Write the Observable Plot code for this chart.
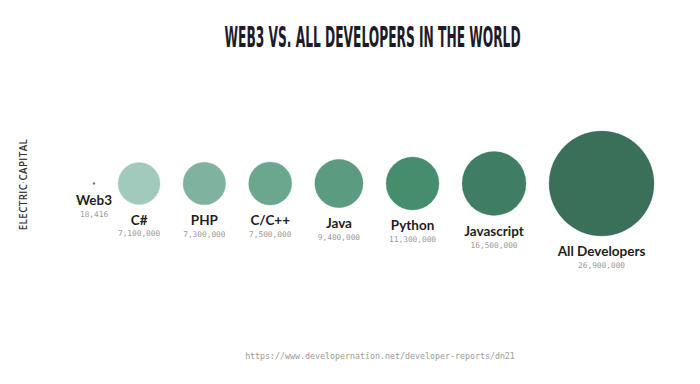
<!DOCTYPE html>
<html><head><meta charset="utf-8">
<script src="https://cdn.jsdelivr.net/npm/d3@7"></script>
<script src="https://cdn.jsdelivr.net/npm/@observablehq/plot@0.6"></script>
<style>
html,body{margin:0;padding:0;background:#fff;}
#wrap{position:relative;width:700px;height:384px;overflow:hidden;background:#fff;}
#title{position:absolute;left:0;top:0;width:746px;height:64px;text-align:center;}
#title span{display:inline-block;margin-top:24px;font-family:"Liberation Sans Narrow","DejaVu Sans Condensed","Liberation Sans",sans-serif;font-weight:bold;font-size:28px;line-height:28px;color:#1c1c28;white-space:nowrap;transform-origin:50% 50%;}
#chart{position:absolute;left:0;top:64px;z-index:1;}
#brand{position:absolute;left:-37px;top:178px;width:120px;height:13px;line-height:13px;text-align:center;transform:rotate(-90deg);font-family:"Open Sans",Lato,sans-serif;font-weight:600;font-size:9.8px;letter-spacing:0.4px;color:#333;white-space:nowrap;z-index:2;}
#brand .sep{color:#7fb0a0;}
#caption{position:absolute;left:0;top:351px;width:760px;text-align:center;font-family:"DejaVu Sans Mono",monospace;font-size:8.3px;color:#9a9a9a;white-space:nowrap;z-index:2;}
</style>
</head><body>
<div id="wrap">
  <div id="title"><span id="tt">WEB3 VS. ALL DEVELOPERS IN THE WORLD</span></div>
  <div id="chart"></div>
  <div id="brand">ELECTRIC<span class="sep">·</span>CAPITAL</div>
  <div id="caption">https://www.developernation.net/developer-reports/dn21</div>
</div>
<script>
// ---- data ----
const names = ["Web3", "C#", "PHP", "C/C++", "Java", "Python", "Javascript", "All Developers"];
const developers = [18416, 7100000, 7300000, 7500000, 9400000, 11300000, 16500000, 26900000];

// ---- styles ----
const colors = ["#5d6b7d", "#a2cabc", "#80b39f", "#6ba78f", "#5b9b80", "#468d6e", "#3f7e64", "#3a7059"];
const rOptions = {type: "sqrt", domain: [0, 16500000, 26900000], range: [0, 32, 52.5]};
const gap = 23, centerX = 373, rowY = 119, labelGap = 16, valueGap = 13.5;

// title width fit
const tt = document.getElementById("tt");
const sx = 296 / tt.getBoundingClientRect().width;
tt.style.transform = `scale(${sx}, 1)`;

// layout: pack circles in a row using the plot's own r scale
const rScale = Plot.scale({r: rOptions});
const radii = developers.map(v => rScale.apply(v));
let pos = [], cur = 0;
radii.forEach((r, i) => {
  if (i === 0) cur = r; else cur += radii[i - 1] + gap + r;
  pos.push(cur);
});
const left = pos[0] - radii[0], right = pos[pos.length - 1] + radii[radii.length - 1];
const shift = centerX - (left + right) / 2;

const data = names.map((name, i) => ({
  name,
  value: developers[i],
  cx: pos[i] + shift,
  cy: rowY,
  ny: rowY + radii[i] + labelGap,
  vy: rowY + radii[i] + labelGap + valueGap
}));

const fmt = d3.format(",");
const chart = Plot.plot({
  width: 700,
  height: 272,
  margin: 0,
  axis: null,
  x: {type: "identity"},
  y: {type: "identity"},
  r: rOptions,
  color: {type: "ordinal", domain: names, range: colors},
  style: {background: "transparent"},
  marks: [
    Plot.dot(data, {x: "cx", y: "cy", r: "value", fill: "name", stroke: "name", strokeOpacity: 0.5, strokeWidth: 0.6}),
    Plot.text(data, {x: "cx", y: "ny", text: "name", fontFamily: "Lato, 'Open Sans', sans-serif", fontWeight: "bold", fontSize: 13.5, fill: "#1e1e22"}),
    Plot.text(data, {x: "cx", y: "vy", text: d => fmt(d.value), fontFamily: "'DejaVu Sans Mono', monospace", fontSize: 7.8, fill: "#999"})
  ]
});
document.getElementById("chart").appendChild(chart);
</script>
</body></html>
